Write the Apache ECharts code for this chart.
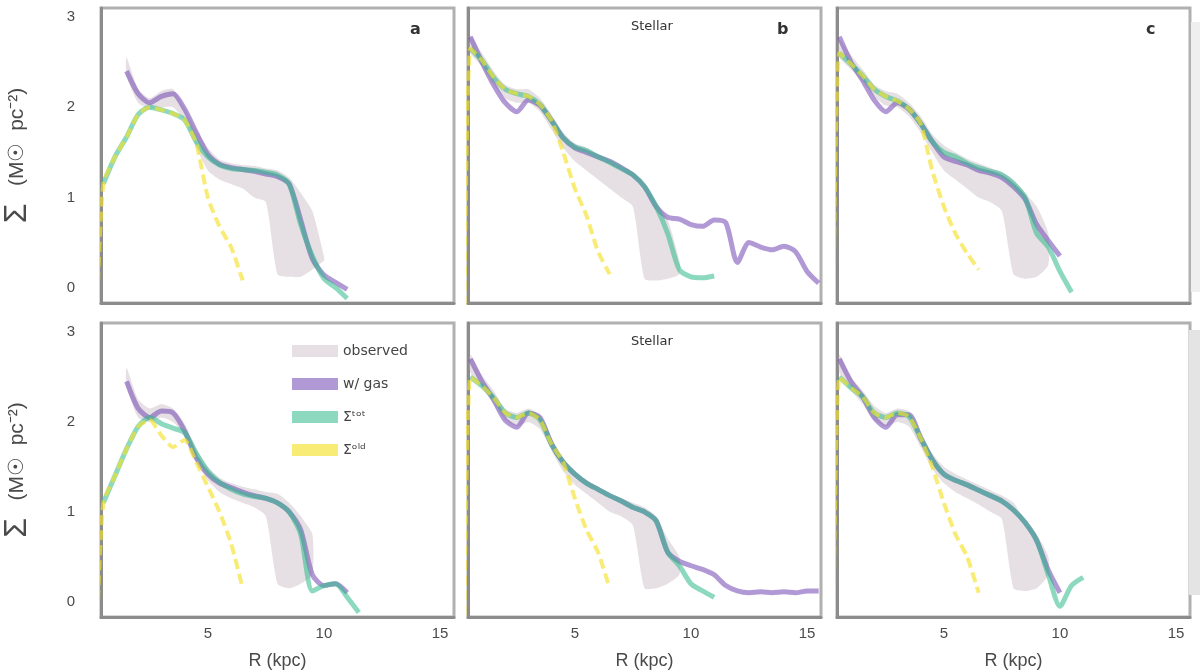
<!DOCTYPE html>
<html><head><meta charset="utf-8">
<script src="https://cdn.jsdelivr.net/npm/echarts@6/dist/echarts.min.js"></script>
<style>html,body{margin:0;padding:0;background:#fff}#c{width:1200px;height:672px}</style>
</head><body><div id="c"></div>
<script>
const _ = null;
// radius grid (kpc)
const R = [0.25,0.5,1,1.5,2,2.5,3,3.5,4,4.5,5,5.5,6,6.5,7,7.5,8,8.5,9,9.5,10,10.5,11,11.5,12,12.5,13,13.5,14,14.5,15,15.5];
const xTicks = [5,10,15];
const yTicks = [0,1,2,3];
const names = ['observed','w/ gas','Σᵗᵒᵗ','Σᵒˡᵈ'];
const panelLetters = ['a','b','c','','',''];
const panelTitles = ['','Stellar','','','Stellar',''];

// panel a
const a_lo  = [_,_,_,2.35,2.05,1.98,2.0,2.0,1.85,1.55,1.3,1.2,1.15,1.1,1.0,0.95,0.15,0.12,0.12,0.2,0.3,_,_,_,_,_,_,_,_,_,_,_];
const a_hi  = [_,_,_,2.55,2.2,2.1,2.18,2.2,2.0,1.75,1.55,1.42,1.38,1.36,1.35,1.32,1.3,1.22,1.05,0.85,0.35,_,_,_,_,_,_,_,_,_,_,_];
const a_gas = [_,_,_,2.4,2.15,2.05,2.12,2.15,1.98,1.72,1.48,1.37,1.33,1.31,1.29,1.26,1.23,1.15,0.75,0.32,0.14,0.06,-0.02,_,_,_,_,_,_,_,_,_];
const a_tot = [_,1.15,1.45,1.67,1.92,2.0,1.97,1.93,1.86,1.62,1.45,1.36,1.32,1.31,1.3,1.28,1.25,1.15,0.7,0.35,0.1,0.0,-0.12,_,_,_,_,_,_,_,_,_];
const a_old = [-0.1,1.15,1.45,1.67,1.92,2.0,1.97,1.93,1.86,1.6,1.0,0.68,0.45,0.08,_,_,_,_,_,_,_,_,_,_,_,_,_,_,_,_,_,_];
// panel b
const b_lo  = [_,2.6,2.45,2.25,2.1,2.05,2.05,1.95,1.75,1.55,1.4,1.3,1.2,1.1,1.0,0.9,0.1,0.08,0.1,0.15,_,_,_,_,_,_,_,_,_,_,_,_];
const b_hi  = [_,2.8,2.6,2.4,2.25,2.2,2.2,2.1,1.92,1.72,1.6,1.55,1.48,1.42,1.35,1.28,1.15,0.95,0.75,0.3,_,_,_,_,_,_,_,_,_,_,_,_];
const b_gas = [_,2.78,2.5,2.25,2.05,1.95,2.08,2.02,1.85,1.66,1.55,1.5,1.45,1.4,1.33,1.25,1.12,0.9,0.78,0.76,0.7,0.68,0.75,0.72,0.28,0.5,0.45,0.42,0.46,0.4,0.18,0.05];
const b_tot = [_,2.65,2.52,2.33,2.2,2.15,2.12,2.03,1.85,1.66,1.56,1.52,1.45,1.39,1.32,1.25,1.12,0.9,0.6,0.2,0.12,0.11,0.13,_,_,_,_,_,_,_,_,_];
const b_old = [-0.2,2.65,2.52,2.33,2.2,2.15,2.12,2.03,1.85,1.5,1.1,0.8,0.4,0.15,_,_,_,_,_,_,_,_,_,_,_,_,_,_,_,_,_,_];
// panel c
const c_lo  = [_,2.55,2.42,2.28,2.12,2.02,2.0,1.9,1.72,1.5,1.3,1.2,1.1,1.0,0.95,0.85,0.15,0.1,0.12,0.25,_,_,_,_,_,_,_,_,_,_,_,_];
const c_hi  = [_,2.75,2.58,2.42,2.25,2.18,2.15,2.05,1.9,1.7,1.58,1.5,1.43,1.38,1.33,1.28,1.2,1.05,0.9,0.6,_,_,_,_,_,_,_,_,_,_,_,_];
const c_gas = [_,2.78,2.5,2.3,2.08,1.95,2.05,1.98,1.82,1.62,1.45,1.4,1.36,1.3,1.27,1.22,1.12,0.98,0.7,0.52,0.35,_,_,_,_,_,_,_,_,_,_,_];
const c_tot = [_,2.6,2.48,2.35,2.2,2.12,2.07,1.98,1.82,1.62,1.5,1.45,1.38,1.33,1.29,1.25,1.15,1.0,0.6,0.45,0.18,-0.05,_,_,_,_,_,_,_,_,_,_];
const c_old = [-0.1,2.6,2.48,2.35,2.2,2.12,2.07,1.98,1.82,1.3,0.9,0.6,0.38,0.2,_,_,_,_,_,_,_,_,_,_,_,_,_,_,_,_,_,_];
// panel d
const d_lo  = [_,_,_,2.4,2.05,2.0,2.05,2.0,1.85,1.55,1.35,1.22,1.15,1.1,1.05,0.95,0.2,0.15,0.2,0.3,_,_,_,_,_,_,_,_,_,_,_,_];
const d_hi  = [_,_,_,2.6,2.25,2.15,2.2,2.15,1.98,1.7,1.5,1.38,1.32,1.28,1.25,1.22,1.2,1.1,0.95,0.75,_,_,_,_,_,_,_,_,_,_,_,_];
const d_gas = [_,_,_,2.45,2.15,2.05,2.12,2.1,1.9,1.6,1.42,1.32,1.27,1.22,1.18,1.15,1.1,1.0,0.8,0.3,0.18,0.2,0.1,_,_,_,_,_,_,_,_,_];
const d_tot = [_,1.1,1.4,1.7,1.95,2.05,1.98,1.93,1.88,1.65,1.45,1.33,1.25,1.2,1.17,1.15,1.1,1.0,0.75,0.12,0.18,0.2,0.05,-0.12,_,_,_,_,_,_,_,_];
const d_old = [-0.15,1.1,1.4,1.7,1.95,2.02,1.85,1.72,1.8,1.55,1.28,1.0,0.65,0.15,_,_,_,_,_,_,_,_,_,_,_,_,_,_,_,_,_,_];
// panel e
const e_lo  = [_,2.55,2.38,2.2,2.02,1.95,2.0,1.92,1.68,1.45,1.3,1.2,1.1,1.0,0.95,0.85,0.15,0.15,0.2,0.3,_,_,_,_,_,_,_,_,_,_,_,_];
const e_hi  = [_,2.75,2.52,2.35,2.15,2.1,2.15,2.08,1.82,1.6,1.45,1.35,1.28,1.2,1.15,1.1,1.05,0.95,0.7,0.5,_,_,_,_,_,_,_,_,_,_,_,_];
const e_gas = [_,2.7,2.45,2.25,2.02,1.94,2.1,2.05,1.75,1.55,1.42,1.32,1.25,1.18,1.12,1.05,1.0,0.9,0.55,0.45,0.4,0.36,0.3,0.18,0.12,0.1,0.11,0.1,0.11,0.1,0.12,0.12];
const e_tot = [_,2.5,2.4,2.27,2.1,2.05,2.1,2.02,1.75,1.55,1.42,1.32,1.25,1.18,1.12,1.05,1.0,0.9,0.55,0.4,0.2,0.12,0.05,_,_,_,_,_,_,_,_,_];
const e_old = [-0.15,2.5,2.4,2.27,2.1,2.05,2.1,2.02,1.75,1.55,1.15,0.8,0.55,0.15,_,_,_,_,_,_,_,_,_,_,_,_,_,_,_,_,_,_];
// panel f
const f_lo  = [_,2.55,2.35,2.2,2.02,1.95,2.0,1.95,1.72,1.48,1.32,1.22,1.15,1.08,1.0,0.92,0.15,0.12,0.15,0.3,_,_,_,_,_,_,_,_,_,_,_,_];
const f_hi  = [_,2.75,2.5,2.35,2.18,2.1,2.15,2.12,1.9,1.65,1.5,1.42,1.36,1.3,1.24,1.18,1.1,0.9,0.75,0.5,_,_,_,_,_,_,_,_,_,_,_,_];
const f_gas = [_,2.7,2.45,2.28,2.05,1.94,2.08,2.08,1.82,1.58,1.42,1.35,1.3,1.24,1.18,1.12,1.02,0.88,0.68,0.35,0.1,_,_,_,_,_,_,_,_,_,_,_];
const f_tot = [_,2.5,2.38,2.28,2.1,2.05,2.1,2.06,1.82,1.58,1.42,1.35,1.3,1.24,1.18,1.12,1.02,0.88,0.68,0.3,-0.05,0.18,0.27,_,_,_,_,_,_,_,_,_];
const f_old = [-0.15,2.5,2.38,2.28,2.1,2.05,2.1,2.06,1.82,1.5,1.1,0.75,0.5,0.1,_,_,_,_,_,_,_,_,_,_,_,_,_,_,_,_,_,_];

const panels = [
  [a_lo,a_hi,a_gas,a_tot,a_old],[b_lo,b_hi,b_gas,b_tot,b_old],[c_lo,c_hi,c_gas,c_tot,c_old],
  [d_lo,d_hi,d_gas,d_tot,d_old],[e_lo,e_hi,e_gas,e_tot,e_old],[f_lo,f_hi,f_gas,f_tot,f_old]
];

const C_BAND = 'rgba(205,192,200,0.5)';
const C_GAS = 'rgba(125,85,185,0.6)';
const C_TOT = 'rgba(45,185,140,0.55)';
const C_OLD = 'rgba(245,225,45,0.65)';

const colLeft = [101, 468, 837];
const rowTop = [8, 323];
const rowH = [295, 294];
const W = 353;

const grids = [], xAxes = [], yAxes = [], series = [], graphics = [];
for (let p = 0; p < 6; p++) {
  const row = Math.floor(p / 3), col = p % 3;
  grids.push({left: colLeft[col], top: rowTop[row], width: W, height: rowH[row],
    show: true, borderColor: '#b0b0b0', borderWidth: 3, backgroundColor: '#fff'});
  xAxes.push({type: 'value', gridIndex: p, min: 0.4, max: 15.6,
    axisLine: {show: true, onZero: false, lineStyle: {color: '#8c8c8c', width: 3}},
    axisTick: {show: false},
    splitLine: {show: false},
    axisLabel: {show: row === 1, customValues: xTicks, color: '#4a4a4a', fontSize: 15, margin: 9},
    name: row === 1 ? 'R (kpc)' : '', nameLocation: 'middle', nameGap: 35,
    nameTextStyle: {color: '#4a4a4a', fontSize: 18}
  });
  yAxes.push({type: 'value', gridIndex: p, min: -0.17, max: 3.1,
    axisLine: {show: true, onZero: false, lineStyle: {color: '#8c8c8c', width: 3}},
    axisTick: {show: false},
    splitLine: {show: false},
    axisLabel: {show: col === 0, customValues: yTicks, color: '#4a4a4a', fontSize: 15, margin: 26},
    name: col === 0 ? '{a|Σ}   (M☉  pc⁻²)' : '', nameLocation: 'middle', nameGap: 68, nameRotate: 90,
    nameTextStyle: {color: '#4a4a4a', fontSize: 21, rich: {a: {fontSize: 32, color: '#4a4a4a'}}}
  });
  const [lo, hi, gas, tot, old] = panels[p];
  const band = [];
  R.forEach((r, i) => { if (lo[i] !== null && hi[i] !== null) band.push([r, lo[i], hi[i]]); });
  series.push({
    type: 'custom', name: names[0], xAxisIndex: p, yAxisIndex: p, clip: true,
    itemStyle: {color: C_BAND},
    encode: {x: 0, y: [1, 2]},
    data: band,
    renderItem: (function (bandData) {
      return function (params, api) {
        if (params.dataIndex !== 0) return null;
        const up = bandData.map(d => api.coord([d[0], d[2]]));
        const dn = bandData.map(d => api.coord([d[0], d[1]])).reverse();
        return {type: 'polygon', shape: {points: up.concat(dn), smooth: 0.2},
          style: {fill: C_BAND, stroke: null}};
      };
    })(band)
  });
  const mk = (vals) => R.map((r, i) => [r, vals[i]]);
  series.push({type: 'line', name: names[1], xAxisIndex: p, yAxisIndex: p, data: mk(gas),
    showSymbol: false, smooth: 0.25, lineStyle: {color: C_GAS, width: 5}, itemStyle: {color: C_GAS}});
  series.push({type: 'line', name: names[2], xAxisIndex: p, yAxisIndex: p, data: mk(tot),
    showSymbol: false, smooth: 0.25, lineStyle: {color: C_TOT, width: 5}, itemStyle: {color: C_TOT}});
  series.push({type: 'line', name: names[3], xAxisIndex: p, yAxisIndex: p, data: mk(old),
    showSymbol: false, smooth: 0.2, lineStyle: {color: C_OLD, width: 4, type: [10, 5]}, itemStyle: {color: C_OLD}});
  if (panelLetters[p]) graphics.push({type: 'text', left: colLeft[col] + W - 44, top: rowTop[row] + 14,
    style: {text: panelLetters[p], font: 'bold 16px DejaVu Sans', fill: '#333'}});
  if (panelTitles[p]) graphics.push({type: 'text', left: colLeft[col] + 163, top: rowTop[row] + 12,
    style: {text: panelTitles[p], font: '13px DejaVu Sans', fill: '#333'}});
}
graphics.push({type: 'rect', shape: {x: 1189, y: 330, width: 11, height: 265}, style: {fill: '#e4e4e4'}});
graphics.push({type: 'rect', shape: {x: 1191, y: 22, width: 9, height: 270}, style: {fill: '#efefef'}});

const chart = echarts.init(document.getElementById('c'));
chart.setOption({
  animation: false,
  backgroundColor: '#fff',
  grid: grids, xAxis: xAxes, yAxis: yAxes, series: series,
  legend: {data: names, orient: 'vertical', left: 287, top: 339, icon: 'rect',
    itemWidth: 46, itemHeight: 12, itemGap: 19,
    textStyle: {color: '#444', fontSize: 14, fontFamily: 'DejaVu Sans'}},
  graphic: graphics
});
</script></body></html>
